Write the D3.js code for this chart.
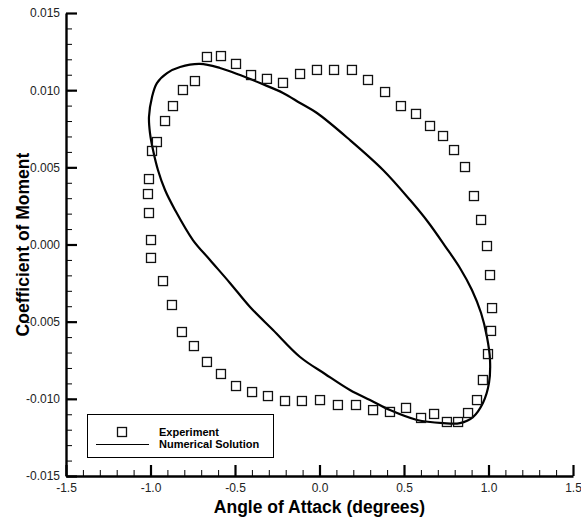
<!DOCTYPE html>
<html>
<head>
<meta charset="utf-8">
<script src="https://cdn.jsdelivr.net/npm/d3@7/dist/d3.min.js"></script>
<style>
  html, body { margin: 0; padding: 0; background: #fff; }
  svg { display: block; }
  text { font-family: "Liberation Sans", Arial, Helvetica, sans-serif; }
</style>
</head>
<body>
<svg id="chart" width="581" height="523"></svg>
<script>
// Experimental pitching-moment loop (angle of attack in degrees, Cm)
const alphaExp = [
  -0.666, -0.583, -0.494, -0.405, -0.311, -0.216, -0.115, -0.015, 0.086, 0.192,
   0.287,  0.388,  0.482,  0.571,  0.654,  0.731,  0.796,  0.861, 0.914, 0.956,
   0.991,  1.009,  1.021,  1.015,  0.997,  0.967,  0.932,  0.879, 0.820, 0.754,
   0.678,  0.601,  0.512,  0.417,  0.317,  0.216,  0.109,  0.003, -0.104, -0.204,
  -0.305, -0.399, -0.494, -0.583, -0.666, -0.743, -0.814, -0.873, -0.926, -0.997,
  -0.997, -1.009, -1.015, -1.009, -0.991, -0.962, -0.914, -0.867, -0.808, -0.737
];
const cmExp = [
   0.01215,  0.01221,  0.01170,  0.01098,  0.01073,  0.01047,  0.01105,  0.01131,  0.01131,  0.01131,
   0.01066,  0.00988,  0.00897,  0.00846,  0.00768,  0.00703,  0.00612,  0.00502,  0.00314,  0.00159,
  -0.00010, -0.00198, -0.00412, -0.00560, -0.00710, -0.00878, -0.01008, -0.01092, -0.01150, -0.01150,
  -0.01098, -0.01124, -0.01059, -0.01085, -0.01073, -0.01040, -0.01040, -0.01008, -0.01014, -0.01014,
  -0.00982, -0.00956, -0.00917, -0.00839, -0.00761, -0.00658, -0.00567, -0.00392, -0.00237, -0.00087,
   0.00029,  0.00204,  0.00327,  0.00424,  0.00606,  0.00664,  0.00800,  0.00897,  0.01001,  0.01059
];

// Computed loop (one closed cycle)
const alphaNum = [
  -0.707, -0.589, -0.470, -0.352, -0.216, -0.115, -0.015, 0.180, 0.376, 0.536,
   0.642,  0.743,  0.831,  0.902,  0.956,  0.991,  1.009, 1.003, 0.967, 0.908,
   0.831,  0.731,  0.577,  0.417,  0.299,  0.180,  0.033, -0.115, -0.275, -0.411,
  -0.530, -0.648, -0.749, -0.855, -0.914, -0.956, -0.985, -1.003, -1.009, -0.991,
  -0.962, -0.902, -0.825
];
const cmNum = [
   0.01170,  0.01144,  0.01098,  0.01046,  0.00982,  0.00917,  0.00852,  0.00677,  0.00483,  0.00288,
   0.00146, -0.00010, -0.00152, -0.00295, -0.00444, -0.00599, -0.00748, -0.00897, -0.01027, -0.01118,
  -0.01157, -0.01157, -0.01137, -0.01073, -0.01008, -0.00943, -0.00839, -0.00729, -0.00554, -0.00405,
  -0.00249, -0.00100,  0.00029,  0.00224,  0.00353,  0.00483,  0.00612,  0.00722,  0.00826,  0.00956,
   0.01046,  0.01111,  0.01150
];

// Axis ticks
const xMajor = [-1.5, -1.0, -0.5, 0.0, 0.5, 1.0, 1.5];
const xLabels = ["-1.5", "-1.0", "-0.5", "0.0", "0.5", "1.0", "1.5"];
const yMajor = [-0.015, -0.010, -0.005, 0.000, 0.005, 0.010, 0.015];
const yLabels = ["-0.015", "-0.010", "-0.005", "0.000", "0.005", "0.010", "0.015"];
const xMinor = d3.range(-15, 16).map(i => i / 10);
const yMinor = d3.range(-15, 16).map(i => i / 1000);

const legendLabels = ["Experiment", "Numerical Solution"];

const svg = d3.select("#chart");

const x = d3.scaleLinear().domain([-1.5, 1.5]).range([66, 573]);
const y = d3.scaleLinear().domain([-0.015, 0.015]).range([476, 13]);

// Minor ticks
svg.append("g")
  .attr("transform", `translate(0,${y(-0.015)})`)
  .call(d3.axisBottom(x).tickValues(xMinor).tickSize(-6).tickSizeOuter(0).tickFormat(""))
  .call(g => g.select(".domain").remove())
  .call(g => g.selectAll("line").attr("stroke", "#000").attr("stroke-width", 1));

svg.append("g")
  .attr("transform", `translate(${x(-1.5)},0)`)
  .call(d3.axisLeft(y).tickValues(yMinor).tickSize(-6).tickSizeOuter(0).tickFormat(""))
  .call(g => g.select(".domain").remove())
  .call(g => g.selectAll("line").attr("stroke", "#000").attr("stroke-width", 1));

// Major ticks, labels and axis lines
const xAxis = svg.append("g")
  .attr("transform", `translate(0,${y(-0.015)})`)
  .call(d3.axisBottom(x).tickValues(xMajor).tickSize(-11).tickSizeOuter(0).tickPadding(7)
    .tickFormat((d, i) => xLabels[i]));
xAxis.select(".domain").attr("stroke", "#000").attr("stroke-width", 2.4);
xAxis.selectAll("line").attr("stroke", "#000").attr("stroke-width", 2.2);
xAxis.selectAll("text").attr("font-size", 12).attr("fill", "#222");

const yAxis = svg.append("g")
  .attr("transform", `translate(${x(-1.5)},0)`)
  .call(d3.axisLeft(y).tickValues(yMajor).tickSize(-11).tickSizeOuter(0).tickPadding(6)
    .tickFormat((d, i) => yLabels[i]));
yAxis.select(".domain").attr("stroke", "#000").attr("stroke-width", 2.4);
yAxis.selectAll("line").attr("stroke", "#000").attr("stroke-width", 2.2);
yAxis.selectAll("text").attr("font-size", 12).attr("fill", "#222");

// Axis titles
svg.append("text")
  .attr("x", (x(-1.5) + x(1.5)) / 2)
  .attr("y", 513)
  .attr("text-anchor", "middle")
  .attr("font-size", 17.5)
  .attr("font-weight", "bold")
  .attr("fill", "#000")
  .text("Angle of Attack (degrees)");

svg.append("text")
  .attr("transform", `translate(29,${(y(-0.015) + y(0.015)) / 2}) rotate(-90)`)
  .attr("text-anchor", "middle")
  .attr("font-size", 17.5)
  .attr("font-weight", "bold")
  .attr("fill", "#000")
  .text("Coefficient of Moment");

// Numerical solution loop
const numPts = alphaNum.map((a, i) => [a, cmNum[i]]);
svg.append("path")
  .datum(numPts)
  .attr("fill", "none")
  .attr("stroke", "#000")
  .attr("stroke-width", 2.2)
  .attr("d", d3.line().x(d => x(d[0])).y(d => y(d[1])).curve(d3.curveCatmullRomClosed.alpha(0.5)));

// Experimental points
const sq = 9;
svg.append("g")
  .selectAll("rect")
  .data(alphaExp.map((a, i) => [a, cmExp[i]]))
  .join("rect")
  .attr("x", d => x(d[0]) - sq / 2)
  .attr("y", d => y(d[1]) - sq / 2)
  .attr("width", sq)
  .attr("height", sq)
  .attr("fill", "none")
  .attr("stroke", "#111")
  .attr("stroke-width", 1.3);

// Legend
const lg = svg.append("g");
lg.append("rect")
  .attr("x", 87.5).attr("y", 414.5)
  .attr("width", 186).attr("height", 43)
  .attr("fill", "#fff")
  .attr("stroke", "#000")
  .attr("stroke-width", 1);
lg.append("rect")
  .attr("x", 122 - sq / 2).attr("y", 432 - sq / 2)
  .attr("width", sq).attr("height", sq)
  .attr("fill", "none").attr("stroke", "#111").attr("stroke-width", 1.3);
lg.append("line")
  .attr("x1", 96).attr("x2", 149)
  .attr("y1", 444.5).attr("y2", 444.5)
  .attr("stroke", "#000").attr("stroke-width", 1.2);
lg.selectAll("text.lab")
  .data(legendLabels)
  .join("text")
  .attr("class", "lab")
  .attr("x", 159)
  .attr("y", (d, i) => 436 + i * 11.5)
  .attr("font-size", 11)
  .attr("font-weight", "bold")
  .attr("fill", "#000")
  .text(d => d);
</script>
</body>
</html>
